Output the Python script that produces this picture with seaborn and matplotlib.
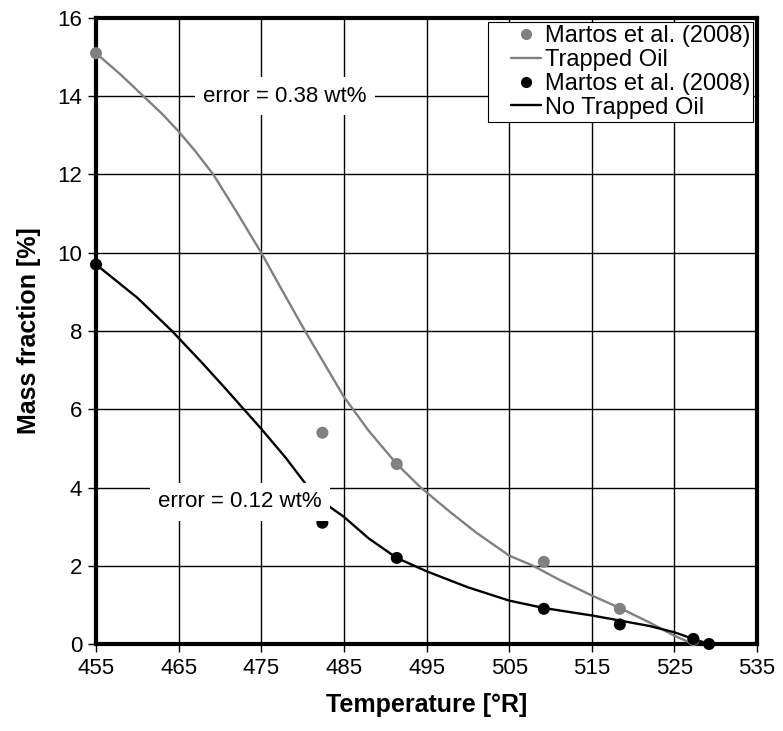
import matplotlib
matplotlib.use('Agg')
import matplotlib.pyplot as plt
import seaborn as sns
from matplotlib.legend_handler import HandlerLine2D

# experimental data (Martos et al. 2008)
temp_trapped = [455, 482.4, 491.4, 509.2, 518.4, 527.3]
mass_trapped = [15.1, 5.4, 4.6, 2.1, 0.9, 0.1]
temp_free = [455, 482.4, 491.4, 509.2, 518.4, 527.3, 529.2]
mass_free = [9.7, 3.1, 2.2, 0.9, 0.5, 0.13, 0.0]

# model curves
curve_t_trapped = [455, 458, 460.5, 463, 465, 467, 469.2, 472, 475, 477.5, 480.3, 485, 488, 491.4,
                   494.3, 498, 501, 505, 507.9, 511, 515, 518.4, 522, 525, 527.3]
curve_m_trapped = [15.1, 14.55, 14.05, 13.55, 13.1, 12.6, 12.0, 11.05, 10.0, 9.05, 8.0, 6.32, 5.45, 4.6,
                   4.0, 3.35, 2.85, 2.26, 2.0, 1.65, 1.24, 0.92, 0.55, 0.21, 0.0]
curve_t_free = [455, 460, 464.2, 468, 471, 473.1, 475, 478, 480.7, 483, 485, 488, 491.4, 495, 500,
                505, 509.2, 515, 518.4, 522, 525, 527.3, 529.2]
curve_m_free = [9.7, 8.85, 8.0, 7.15, 6.45, 5.95, 5.5, 4.75, 4.0, 3.55, 3.25, 2.7, 2.2, 1.86, 1.45,
                1.11, 0.92, 0.73, 0.6, 0.46, 0.3, 0.13, 0.0]

sns.set_style('white')
plt.rcParams['font.family'] = ['Liberation Sans', 'DejaVu Sans']
plt.rcParams['text.color'] = 'black'
plt.rcParams['axes.labelcolor'] = 'black'


# legend handler: shorter line, placed at the right of the handle box
class ShortHandler(HandlerLine2D):
    def create_artists(self, legend, orig_handle, xdescent, ydescent, width, height, fontsize, trans):
        arts = super().create_artists(legend, orig_handle, xdescent, ydescent, width, height, fontsize, trans)
        for a in arts:
            xd = [0.4 * width + 0.6 * (x + xdescent) - xdescent for x in a.get_xdata()]
            a.set_xdata(xd)
        return arts


fig = plt.figure(figsize=(7.83, 7.31), dpi=100)
ax = fig.add_axes([0.1226, 0.119, 0.8442, 0.8564])

gray = '#808080'
sns.lineplot(x=curve_t_trapped, y=curve_m_trapped, ax=ax, color=gray, lw=1.7, sort=False, zorder=3)
sns.lineplot(x=curve_t_free, y=curve_m_free, ax=ax, color='black', lw=1.7, sort=False, zorder=3)
sns.scatterplot(x=temp_trapped, y=mass_trapped, ax=ax, color=gray, s=75, edgecolor='none',
                zorder=4, clip_on=False)
sns.scatterplot(x=temp_free, y=mass_free, ax=ax, color='black', s=75, edgecolor='none',
                zorder=4, clip_on=False)

ax.set_xlim(455, 535)
ax.set_ylim(0, 16)
ax.set_xticks(range(455, 536, 10))
ax.set_yticks(range(0, 17, 2))
ax.grid(True, color='black', lw=1.0)
ax.set_axisbelow(True)
for s in ax.spines.values():
    s.set_linewidth(3)
    s.set_color('black')
ax.tick_params(axis='both', direction='out', length=6, width=1, labelsize=16, colors='black',
               bottom=True, left=True, pad=4)
ax.set_xlabel('Temperature [°R]', fontsize=18, fontweight='bold', labelpad=10)
ax.set_ylabel('Mass fraction [%]', fontsize=18, fontweight='bold', labelpad=12)

box = dict(facecolor='white', edgecolor='none', pad=6)
ax.text(477.9, 14, 'error = 0.38 wt%', fontsize=16, ha='center', va='center', bbox=box, zorder=5)
ax.text(472.4, 3.63, 'error = 0.12 wt%', fontsize=16, ha='center', va='center', bbox=box, zorder=5)

handles = [
    plt.Line2D([], [], marker='o', color=gray, ls='none', markersize=7),
    plt.Line2D([], [], color=gray, lw=1.7),
    plt.Line2D([], [], marker='o', color='black', ls='none', markersize=7),
    plt.Line2D([], [], color='black', lw=1.7),
]
labels = ['Martos et al. (2008)', 'Trapped Oil', 'Martos et al. (2008)', 'No Trapped Oil']
leg = ax.legend(handles, labels, loc='upper right', fontsize=17, frameon=True, fancybox=False,
                borderaxespad=0.15, handlelength=2.1, handletextpad=0.15, labelspacing=0.08,
                borderpad=0.15, framealpha=1,
                handler_map={plt.Line2D: ShortHandler()})
leg.get_frame().set_edgecolor('black')
leg.get_frame().set_linewidth(0.8)
leg.set_zorder(6)

fig.savefig('out.png', dpi=100)
